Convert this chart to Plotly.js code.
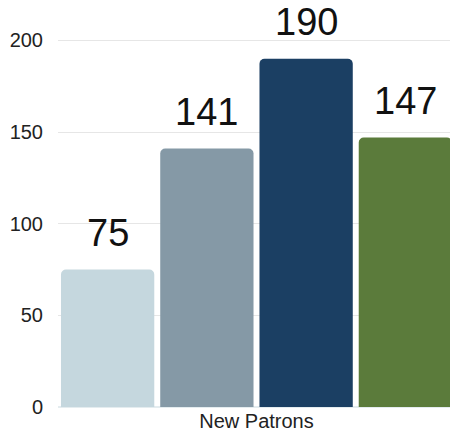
<!DOCTYPE html>
<html>
<head>
<meta charset="utf-8">
<script src="https://cdn.plot.ly/plotly-3.0.1.min.js"></script>
<style>html,body{margin:0;padding:0;background:#fff;overflow:hidden;width:450px;height:439px;}#chart{width:455px;height:439px;}</style>
</head>
<body>
<div id="chart"></div>
<script>
const categories = ["New Patrons"];
const seriesNames = ["Series A", "Series B", "Series C", "Series D"];
const seriesValues = [75, 141, 190, 147];
const seriesColors = ["#c5d7de", "#8599a6", "#1b3f63", "#5b7b3b"];
const yTicks = [0, 50, 100, 150, 200];

const n = seriesValues.length;
const traces = seriesValues.map((v, i) => ({
  type: "bar",
  name: seriesNames[i],
  x: categories,
  y: [v],
  marker: { color: seriesColors[i], cornerradius: 5 },
  hoverinfo: "none"
}));

const annotations = seriesValues.map((v, i) => ({
  x: (i - (n - 1) / 2) / n,
  y: v,
  xref: "x",
  yref: "y",
  text: String(v),
  showarrow: false,
  yanchor: "bottom",
  yshift: 14,
  font: { family: "Liberation Sans, Arial, sans-serif", size: 38, color: "#111" }
}));

const layout = {
  width: 455,
  height: 439,
  margin: { l: 58, r: 0, t: 0, b: 32 },
  paper_bgcolor: "#fff",
  plot_bgcolor: "#fff",
  showlegend: false,
  barmode: "group",
  bargap: 0,
  bargroupgap: 0.06,
  font: { family: "Liberation Sans, Arial, sans-serif", color: "#333" },
  xaxis: {
    type: "category",
    tickfont: { size: 20, color: "#222" },
    showgrid: false,
    showline: false,
    ticks: "",
    fixedrange: true
  },
  yaxis: {
    range: [0, 222],
    tickvals: yTicks,
    tickfont: { size: 20, color: "#222" },
    gridcolor: "#e6e6e6",
    zeroline: true,
    zerolinecolor: "#e4ecef",
    zerolinewidth: 2,
    ticklabelstandoff: 14,
    ticks: "",
    fixedrange: true
  },
  annotations: annotations
};

Plotly.newPlot("chart", traces, layout, { displayModeBar: false, staticPlot: true });
</script>
</body>
</html>
